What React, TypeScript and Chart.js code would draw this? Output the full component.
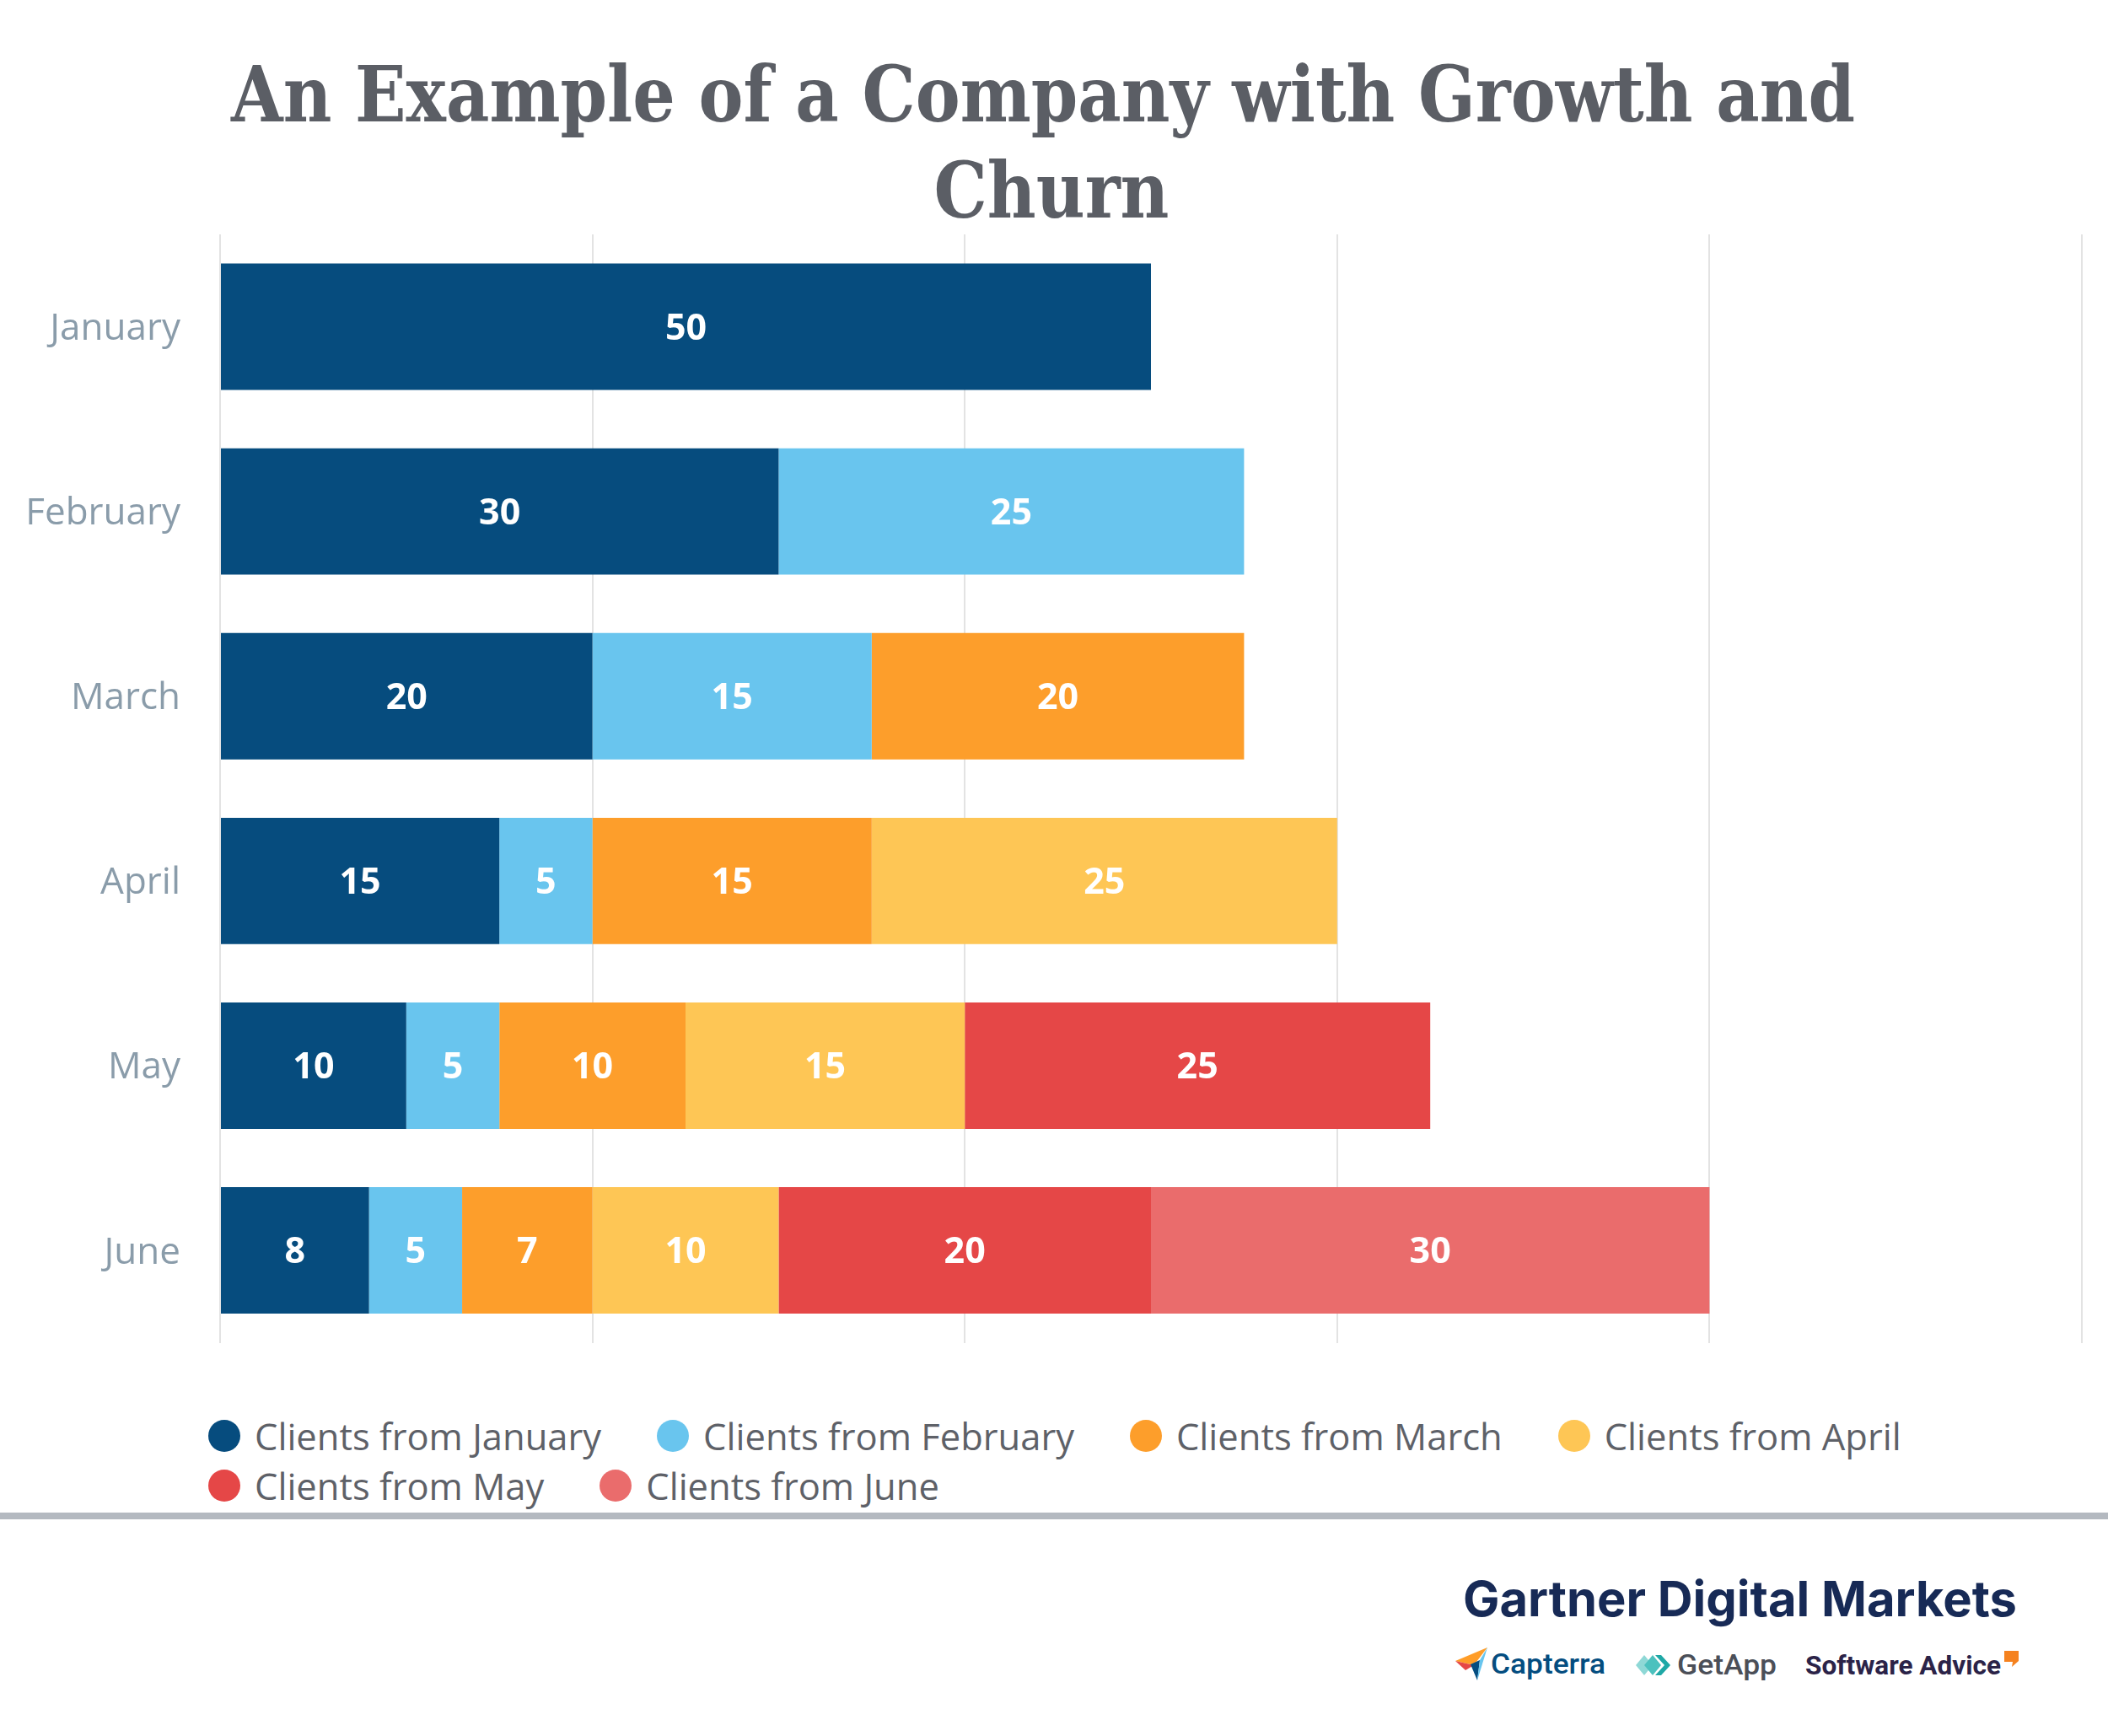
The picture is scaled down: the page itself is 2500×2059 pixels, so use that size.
import React, { useEffect, useRef } from 'react';
import { Chart, registerables } from 'chart.js';

Chart.register(...registerables);

// ---------- data ----------
const categories = ['January', 'February', 'March', 'April', 'May', 'June'];
const seriesNames = [
  'Clients from January',
  'Clients from February',
  'Clients from March',
  'Clients from April',
  'Clients from May',
  'Clients from June',
];
const fromJanuary = [50, 30, 20, 15, 10, 8];
const fromFebruary = [null, 25, 15, 5, 5, 5];
const fromMarch = [null, null, 20, 15, 10, 7];
const fromApril = [null, null, null, 25, 15, 10];
const fromMay = [null, null, null, null, 25, 20];
const fromJune = [null, null, null, null, null, 30];
const seriesValues = [fromJanuary, fromFebruary, fromMarch, fromApril, fromMay, fromJune];
const seriesColors = ['#064c7e', '#69c5ee', '#fd9e2b', '#fec655', '#e54747', '#ea6c6c'];
const axisMin = 0;
const axisMax = 100;
const axisStep = 20;
const titleLines = ['An Example of a Company with Growth and', 'Churn'];

// ---------- plugins ----------
const titlePlugin = {
  id: 'slabTitle',
  afterDraw(chart: any) {
    const ctx = chart.ctx;
    ctx.save();
    ctx.fillStyle = '#5b5e65';
    ctx.font = 'bold 92px "DejaVu Serif"';
    ctx.textAlign = 'center';
    ctx.textBaseline = 'alphabetic';
    ctx.fillText(titleLines[0], 1237, 144, 1926);
    ctx.fillText(titleLines[1], 1247, 258, 279);
    ctx.restore();
  },
};

const valueLabelPlugin = {
  id: 'valueLabels',
  afterDatasetsDraw(chart: any) {
    const ctx = chart.ctx;
    ctx.save();
    ctx.font = 'bold 43px "Open Sans"';
    ctx.fillStyle = '#ffffff';
    ctx.textAlign = 'center';
    ctx.textBaseline = 'middle';
    chart.data.datasets.forEach((ds: any, di: number) => {
      const meta = chart.getDatasetMeta(di);
      meta.data.forEach((el: any, i: number) => {
        const v = ds.data[i];
        if (v === null || v === undefined) return;
        const p = el.getCenterPoint();
        ctx.fillText(String(v), p.x, p.y + 3);
      });
    });
    ctx.restore();
  },
};

export default function App() {
  const canvasRef = useRef<HTMLCanvasElement | null>(null);

  useEffect(() => {
    document.body.style.margin = '0';
    const canvas = canvasRef.current;
    if (!canvas) return;
    const chart = new Chart(canvas, {
      type: 'bar',
      data: {
        labels: categories,
        datasets: seriesNames.map((name, i) => ({
          label: name,
          data: seriesValues[i],
          backgroundColor: seriesColors[i],
          borderWidth: 0,
          barPercentage: 0.684,
          categoryPercentage: 1,
        })),
      },
      options: {
        indexAxis: 'y',
        responsive: false,
        animation: false,
        layout: { padding: { top: 278, right: 31, bottom: 27, left: 0 } },
        plugins: {
          legend: { display: false },
          title: { display: false },
          tooltip: { enabled: false },
        },
        scales: {
          x: {
            stacked: true,
            min: axisMin,
            max: axisMax,
            ticks: { display: false, stepSize: axisStep },
            grid: { color: '#e3e3e3', lineWidth: 2, drawTicks: false },
            border: { display: false },
            afterFit: (s: any) => {
              s.height = 0;
            },
          },
          y: {
            stacked: true,
            grid: { display: false, drawTicks: false },
            border: { display: false },
            ticks: {
              padding: 47,
              labelOffset: 3,
              color: '#8a9caa',
              font: { family: '"Open Sans"', size: 44 },
            },
            afterFit: (s: any) => {
              s.width = 261;
            },
          },
        },
      } as any,
      plugins: [titlePlugin, valueLabelPlugin],
    });
    return () => chart.destroy();
  }, []);

  return (
    <div style={{ position: 'relative', width: 2500, height: 2059, background: '#ffffff', overflow: 'hidden' }}>
      <canvas ref={canvasRef} width={2500} height={1666} style={{ display: 'block', width: 2500, height: 1666 }} />
      <div
        style={{
          position: 'absolute',
          left: 247,
          top: 1673.5,
          width: 2230,
          display: 'flex',
          flexWrap: 'wrap',
          columnGap: 66,
          rowGap: 0,
          fontFamily: '"Open Sans"',
          fontSize: 43.5,
          color: '#5e6168',
        }}
      >
        {seriesNames.map((n, i) => (
          <div key={n} style={{ display: 'flex', alignItems: 'center', height: 59 }}>
            <span
              style={{
                width: 38,
                height: 38,
                borderRadius: '50%',
                background: seriesColors[i],
                marginRight: 17,
                flex: 'none',
              }}
            />
            <span style={{ lineHeight: '59px', whiteSpace: 'nowrap' }}>{n}</span>
          </div>
        ))}
      </div>
      <svg
        style={{ position: 'absolute', left: 0, top: 1780 }}
        width={2500}
        height={279}
        viewBox="0 1780 2500 279"
      >
        <rect x={0} y={1794} width={2500} height={8} fill="#b4b9c0" />
        <text
          x={2392}
          y={1917}
          textAnchor="end"
          fontFamily="Inter"
          fontWeight={700}
          fontSize={58}
          fill="#172a56"
          textLength={657}
          lengthAdjust="spacingAndGlyphs"
        >
          Gartner Digital Markets
        </text>
        {/* Capterra mark */}
        <polygon points="1726,1970 1764,1954 1748,1975" fill="#ff9d28" />
        <polygon points="1726,1970 1748,1975 1738,1981" fill="#e54747" />
        <polygon points="1744,1974 1755,1969 1752,1993" fill="#044d80" />
        <polygon points="1755,1969 1764,1954 1752,1993" fill="#68c5ee" />
        <text x={1768} y={1985} fontFamily="Roboto" fontWeight={500} fontSize={33} fill="#044d80" textLength={136} lengthAdjust="spacingAndGlyphs">
          Capterra
        </text>
        {/* GetApp mark */}
        <polygon points="1940,1975 1950,1963 1960,1975 1950,1987" fill="#8fd8d6" />
        <polygon points="1950,1975 1960,1963 1970,1975 1960,1987" fill="#4cc1be" />
        <polygon points="1963,1963 1970,1963 1981,1975 1970,1987 1963,1987 1974,1975" fill="#1fa8a6" />
        <text x={1989} y={1986} fontFamily="Roboto" fontWeight={500} fontSize={33} fill="#4b4f58" textLength={118} lengthAdjust="spacingAndGlyphs">
          GetApp
        </text>
        <text x={2141} y={1986} fontFamily="Roboto" fontWeight={700} fontSize={32} fill="#2b2348" textLength={232} lengthAdjust="spacingAndGlyphs">
          Software Advice
        </text>
        <path d="M2377,1958 H2394 V1970 L2386,1977 L2387,1971 H2377 Z" fill="#f5821f" />
      </svg>
    </div>
  );
}
